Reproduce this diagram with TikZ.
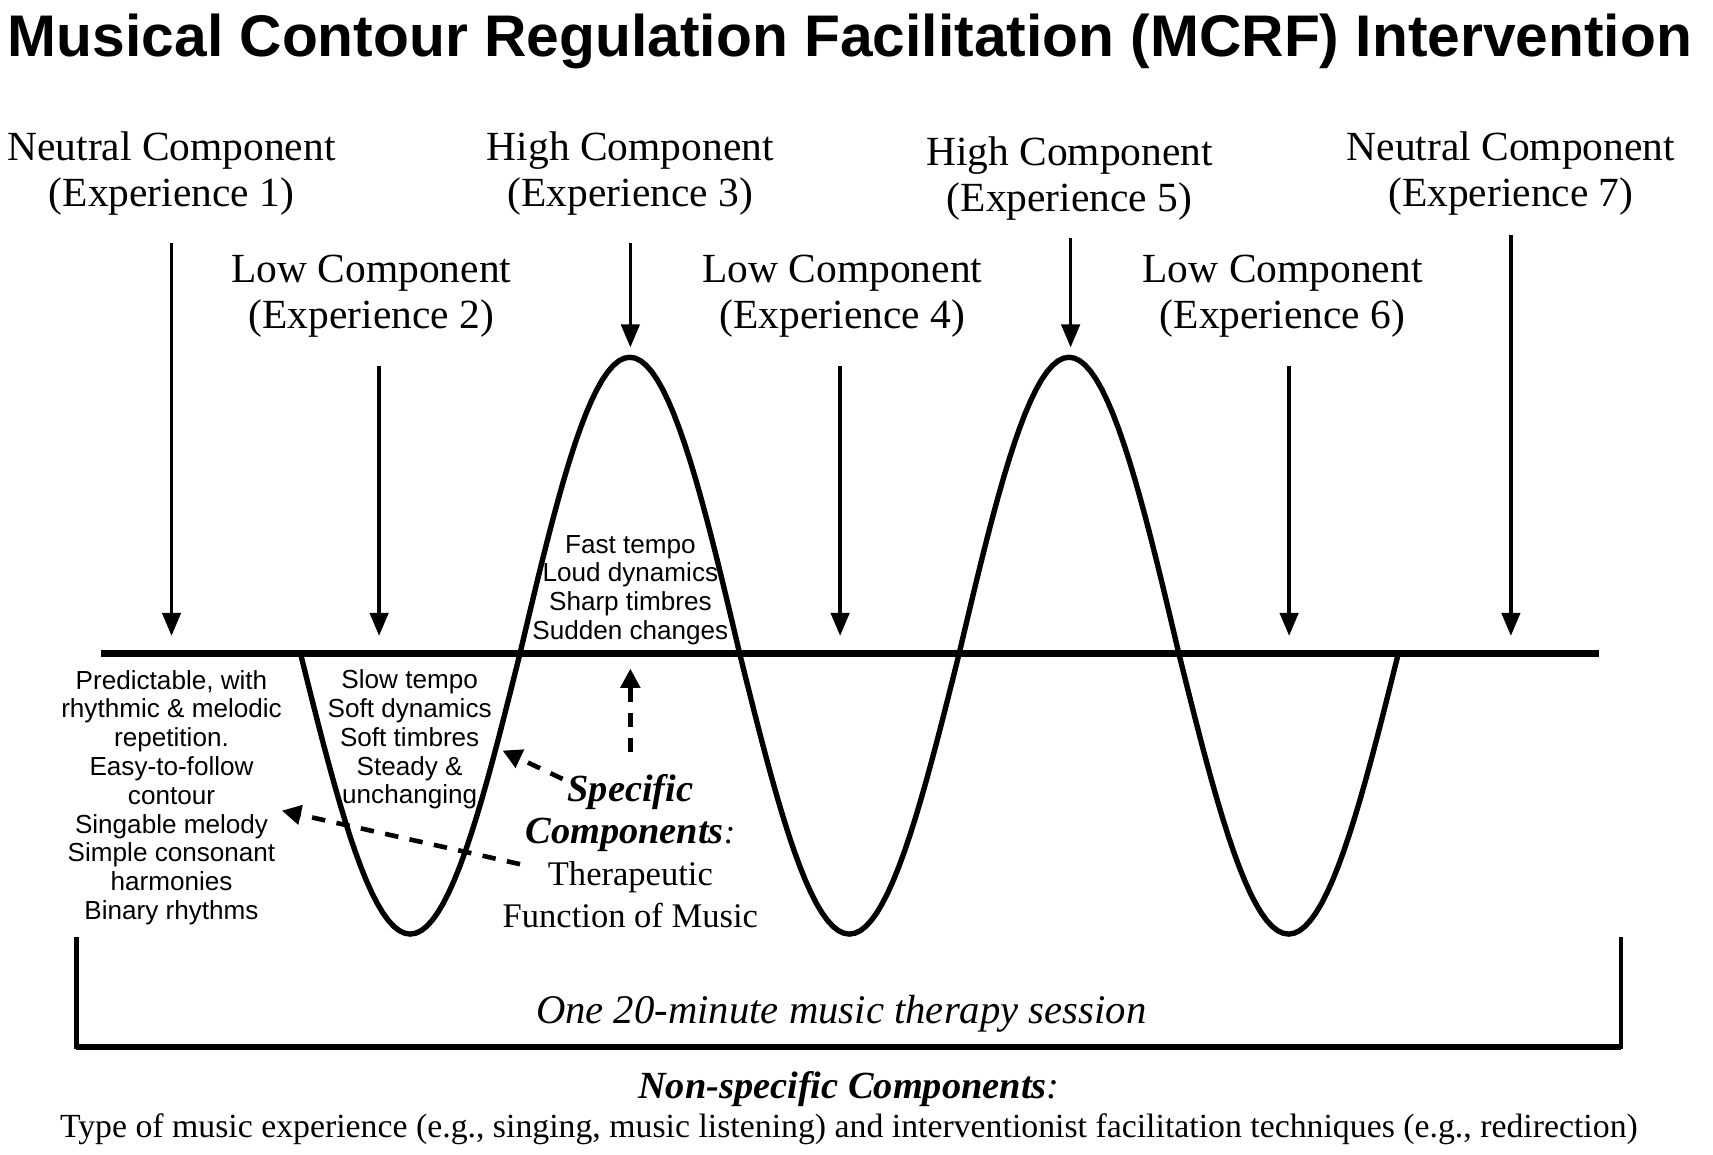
\documentclass[tikz,border=0pt]{standalone}
\usepackage{fontspec}
\setmainfont{Liberation Serif}
\setsansfont{Liberation Sans}
\usetikzlibrary{arrows.meta}
\tikzset{
  comp/.style={align=center,inner sep=0pt,font=\fontsize{10.8}{12}\selectfont},
  feat/.style={align=center,inner sep=0pt,font=\sffamily\fontsize{6.8}{7.5}\selectfont},
  downarr/.style={line width=0.9pt,-{Triangle[length=6pt,width=4.8pt]}},
  dasharr/.style={line width=1.2pt,dash pattern=on 3.5pt off 3pt,-{Triangle[length=5pt,width=5pt]}},
}
\begin{document}
\begin{tikzpicture}[x=0.1mm,y=-0.1mm,declare function={ampl(\t)=sin(\t)*(sin(\t)>0?257:271);}]
	\useasboundingbox (0,0) rectangle (1568,1057);
	\node[inner sep=0pt,font=\sffamily\bfseries\fontsize{15.3}{18}\selectfont] (title) at (778,38) {Musical Contour Regulation Facilitation (MCRF) Intervention};
	% the seven experiences
	\node[comp] (e1) at (157,159) {Neutral Component\\(Experience 1)};
	\node[comp] (e2) at (340,271) {Low Component\\(Experience 2)};
	\node[comp] (e3) at (577,159) {High Component\\(Experience 3)};
	\node[comp] (e4) at (771,271) {Low Component\\(Experience 4)};
	\node[comp] (e5) at (979,163) {High Component\\(Experience 5)};
	\node[comp] (e6) at (1174,271) {Low Component\\(Experience 6)};
	\node[comp] (e7) at (1383,159) {Neutral Component\\(Experience 7)};
	\foreach \i/\x/\a/\b in {1/157/222/582,2/347/335/582,3/577/222/318,4/769/335/582,5/980/218/318,6/1180/335/582,7/1383/215/582}{
		\coordinate (s\i) at (\x,\a);
		\coordinate (t\i) at (\x,\b);
		\draw[downarr] (s\i) -- (t\i);
	}
	% baseline and contour
	\coordinate (bl) at (92,598);
	\coordinate (br) at (1464,598);
	\draw[line width=1.7pt] (bl) -- (br);
	\draw[line width=1.4pt] plot[domain=0:900,samples=201] ({275+\x*1.116667},{598+ampl(\x)});
	\node[feat] (fast) at (577,540) {Fast tempo\\Loud dynamics\\Sharp timbres\\Sudden changes};
	\node[feat] (slow) at (375,677) {Slow tempo\\Soft dynamics\\Soft timbres\\Steady \&\\unchanging};
	\node[feat] (pred) at (157,730) {Predictable, with\\rhythmic \& melodic\\repetition.\\Easy-to-follow\\contour\\Singable melody\\Simple consonant\\harmonies\\Binary rhythms};
	\node[align=center,inner sep=0pt,font=\fontsize{9}{11}\selectfont] (spec) at (577,779) {{\fontsize{10}{11}\selectfont\bfseries\itshape Specific}\\{\fontsize{10}{11}\selectfont\bfseries\itshape Components}\textit{:}\\Therapeutic\\Function of Music};
	\coordinate (d1) at (577,688);
	\coordinate (d1t) at (577,612);
	\coordinate (d2) at (515,713);
	\coordinate (d2t) at (460,687);
	\coordinate (d3) at (476,791);
	\coordinate (d3t) at (258,742);
	\draw[dasharr] (d1) -- (d1t);
	\draw[dasharr] (d2) -- (d2t);
	\draw[dasharr] (d3) -- (d3t);
	% session bracket
	\coordinate (ol) at (70,858);
	\coordinate (or) at (1484,858);
	\draw[line width=1.1pt] (ol) -- ++(0,100) -| (or);
	\draw[line width=1.6pt] (ol) ++(0,100) -- ++(1414,0);
	\node[inner sep=0pt,font=\itshape\fontsize{10.6}{12}\selectfont] (sess) at (770,928) {One 20-minute music therapy session};
	\node[inner sep=0pt,font=\fontsize{10}{12}\selectfont] (nonspec) at (777,997) {\textbf{\textit{Non-specific Components}}\textit{:}};
	\node[inner sep=0pt,font=\fontsize{8.8}{10}\selectfont] (types) at (777,1034) {Type of music experience (e.g., singing, music listening) and interventionist facilitation techniques (e.g., redirection)};
\end{tikzpicture}
\end{document}
